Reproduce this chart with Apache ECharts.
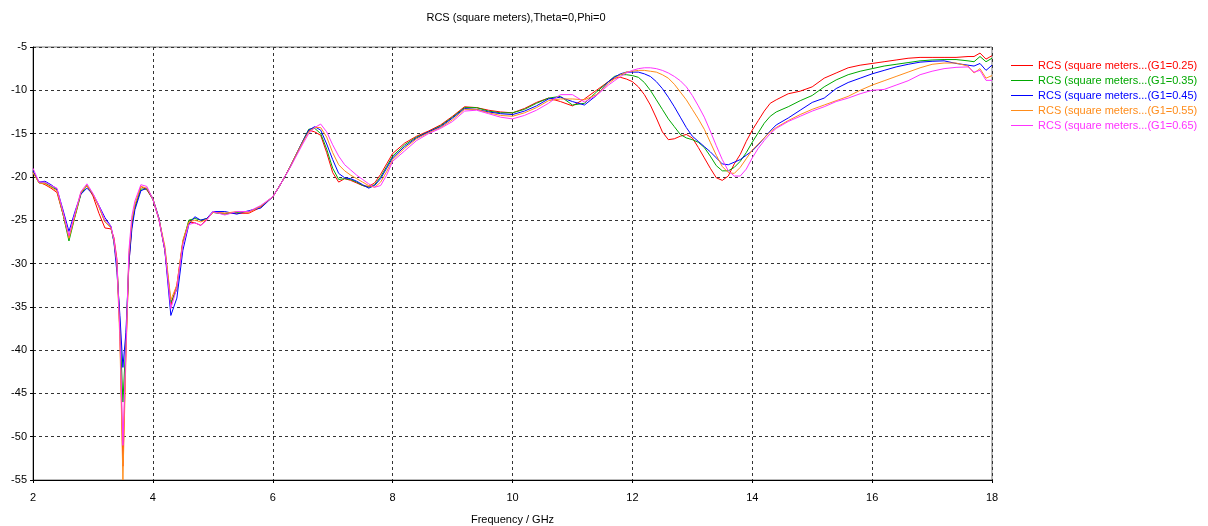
<!DOCTYPE html>
<html>
<head>
<meta charset="utf-8">
<script src="https://cdn.jsdelivr.net/npm/echarts@6/dist/echarts.min.js"></script>
<style>html,body{margin:0;padding:0;background:#fff;}#c{width:1208px;height:526px;}</style>
</head>
<body>
<div id="c"></div>
<script>
const freq = [
  2.0,2.1,2.2,2.3,2.4,2.5,2.6,2.7,2.8,2.9,3.0,3.1,3.2,3.3,
  3.35,3.4,3.45,3.5,3.55,3.6,3.65,3.7,
  3.8,3.9,4.0,4.1,4.2,4.3,4.4,4.5,4.6,4.7,4.8,4.9,5.0,
  5.2,5.4,5.6,5.8,
  6.0,6.1,6.2,6.3,6.4,6.5,6.6,6.7,6.8,6.9,7.0,7.1,7.2,7.3,7.4,7.5,7.6,7.7,7.8,7.9,8.0,
  8.2,8.4,8.6,8.8,9.0,9.2,9.4,9.6,9.8,10.0,10.2,10.4,
  10.6,10.8,11.0,11.2,11.4,11.6,
  11.7,11.8,11.9,12.0,12.1,12.2,12.3,12.4,12.5,12.6,12.7,12.8,12.9,13.0,13.1,13.2,13.3,13.4,13.5,13.6,13.7,13.8,13.9,14.0,14.1,14.2,14.3,14.4,
  14.6,14.8,15.0,15.2,15.4,15.6,15.8,16.0,16.2,16.4,16.6,16.8,17.0,17.2,17.4,17.6,
  17.7,17.8,17.9,18.0
];

const g025 = [
  -19.5,-20.6,-20.9,-21.3,-21.8,-24.3,-27.0,-24.5,-21.8,-21.0,-22.2,-24.2,-25.9,-26.0,
  -27.0,-29.5,-38.0,-53.4,-40.0,-30.0,-25.5,-23.5,
  -21.1,-21.5,-22.6,-24.9,-28.5,-34.8,-32.5,-27.5,-25.2,-25.3,-25.6,-24.9,-24.1,
  -24.2,-24.2,-24.2,-23.5,
  -22.3,-21.2,-20.0,-18.7,-17.3,-15.9,-14.6,-14.8,-15.2,-17.2,-19.5,-20.6,-20.2,-20.4,-20.7,-21.0,-21.1,-20.7,-19.7,-18.5,-17.3,
  -16.1,-15.3,-14.7,-14.0,-13.0,-11.9,-12.0,-12.3,-12.5,-12.6,-12.1,-11.4,
  -10.9,-11.3,-11.8,-11.0,-10.0,-9.0,
  -8.6,-8.5,-8.7,-9.0,-9.6,-10.5,-11.7,-13.2,-14.8,-15.7,-15.6,-15.3,-15.1,-15.5,-16.6,-17.8,-19.0,-20.1,-20.4,-19.9,-18.5,-17.4,-15.9,-14.6,-13.5,-12.4,-11.5,-11.1,
  -10.4,-10.1,-9.6,-8.6,-8.0,-7.4,-7.1,-6.9,-6.7,-6.5,-6.3,-6.2,-6.2,-6.2,-6.2,-6.1,
  -6.1,-5.7,-6.4,-6.0
];

const g035 = [
  -19.4,-20.7,-20.7,-21.1,-21.5,-24.3,-27.4,-24.6,-22.0,-21.0,-22.0,-23.4,-25.2,-25.8,
  -27.5,-30.0,-37.0,-46.0,-39.0,-29.5,-25.5,-23.5,
  -21.4,-21.4,-22.6,-24.8,-28.3,-34.5,-33.0,-27.5,-25.0,-24.8,-25.0,-24.8,-24.1,
  -24.3,-24.1,-24.0,-23.4,
  -22.3,-21.2,-20.0,-18.7,-17.3,-15.9,-14.5,-14.4,-15.0,-16.8,-19.0,-20.3,-20.2,-20.3,-20.6,-21.0,-21.2,-20.9,-20.0,-18.8,-17.6,
  -16.3,-15.4,-14.8,-14.1,-13.1,-12.0,-12.0,-12.4,-12.6,-12.6,-12.2,-11.5,
  -10.9,-10.7,-11.7,-11.5,-10.2,-9.0,
  -8.4,-8.2,-8.2,-8.3,-8.5,-9.1,-10.0,-11.1,-12.2,-13.3,-14.2,-15.1,-15.5,-15.7,-16.0,-16.6,-17.6,-18.7,-19.3,-19.3,-18.9,-18.2,-17.2,-16.0,-14.9,-13.8,-13.0,-12.5,
  -11.9,-11.2,-10.6,-9.6,-8.8,-8.2,-7.8,-7.5,-7.2,-7.0,-6.8,-6.6,-6.5,-6.45,-6.45,-6.6,
  -6.7,-6.1,-6.7,-6.3
];

const g045 = [
  -19.3,-20.6,-20.5,-20.9,-21.4,-23.8,-26.3,-24.0,-22.0,-21.3,-22.0,-23.3,-24.7,-25.7,
  -27.5,-31.0,-36.0,-42.0,-38.0,-30.0,-26.0,-23.8,
  -21.6,-21.3,-22.5,-24.7,-28.5,-36.0,-34.0,-28.5,-25.5,-24.6,-25.0,-24.8,-24.0,
  -24.0,-24.3,-23.9,-23.6,
  -22.3,-21.2,-20.0,-18.7,-17.3,-15.9,-14.6,-14.2,-14.6,-16.2,-18.0,-19.6,-20.1,-20.2,-20.5,-20.9,-21.3,-21.0,-20.2,-19.0,-17.8,
  -16.5,-15.5,-14.8,-14.2,-13.2,-12.1,-12.2,-12.5,-12.7,-12.8,-12.4,-11.8,
  -11.0,-10.8,-11.3,-11.7,-10.6,-9.0,
  -8.5,-8.1,-7.9,-7.9,-7.9,-8.1,-8.4,-9.0,-9.8,-10.8,-11.9,-13.1,-14.3,-15.3,-15.9,-16.5,-17.1,-17.8,-18.5,-18.6,-18.3,-18.0,-17.5,-17.0,-16.3,-15.5,-14.7,-14.0,
  -13.2,-12.3,-11.4,-10.9,-9.8,-9.1,-8.6,-8.1,-7.7,-7.3,-7.0,-6.75,-6.65,-6.6,-6.9,-7.1,
  -7.2,-6.9,-7.7,-7.1
];

const g055 = [
  -19.5,-20.7,-20.8,-21.2,-21.6,-24.2,-27.1,-24.5,-21.8,-21.0,-22.0,-23.5,-25.2,-25.9,
  -27.3,-30.0,-39.0,-55.0,-41.0,-29.0,-25.0,-23.2,
  -21.1,-21.3,-22.5,-24.8,-28.0,-34.2,-32.5,-27.3,-25.2,-25.0,-25.2,-24.9,-24.1,
  -24.2,-24.0,-24.1,-23.4,
  -22.3,-21.2,-20.0,-18.7,-17.3,-16.0,-14.8,-14.3,-14.3,-15.4,-17.2,-18.6,-19.3,-19.8,-20.2,-20.6,-21.0,-21.2,-20.6,-19.4,-18.0,
  -16.7,-15.6,-14.9,-14.3,-13.4,-12.2,-12.2,-12.6,-12.9,-13.0,-12.6,-12.0,
  -11.2,-11.0,-11.0,-11.1,-10.5,-9.2,
  -8.7,-8.2,-7.9,-7.8,-7.7,-7.7,-7.8,-7.9,-8.2,-8.6,-9.3,-10.2,-11.1,-12.2,-13.3,-14.5,-16.0,-17.5,-18.8,-19.5,-19.6,-18.9,-17.9,-16.9,-16.2,-15.5,-14.8,-14.3,
  -13.5,-12.8,-12.2,-11.7,-11.2,-10.7,-10.0,-9.4,-8.9,-8.4,-7.9,-7.4,-7.0,-6.85,-6.85,-7.2,
  -8.0,-7.5,-8.6,-8.3
];

const g065 = [
  -19.0,-20.6,-20.6,-21.0,-21.3,-24.0,-26.8,-24.2,-21.7,-20.8,-21.9,-23.3,-25.0,-25.7,
  -27.2,-29.8,-38.0,-51.0,-40.0,-28.5,-24.5,-22.8,
  -20.9,-21.1,-22.6,-24.9,-28.4,-35.2,-32.8,-27.8,-25.5,-25.3,-25.6,-25.0,-24.0,
  -24.4,-24.0,-24.0,-23.3,
  -22.3,-21.2,-20.0,-18.8,-17.5,-16.2,-15.0,-14.3,-13.9,-14.8,-16.3,-17.6,-18.6,-19.2,-19.8,-20.3,-20.8,-21.2,-21.0,-19.8,-18.2,
  -17.0,-15.8,-15.0,-14.4,-13.6,-12.4,-12.3,-12.7,-13.1,-13.3,-12.9,-12.3,
  -11.5,-10.5,-10.5,-11.35,-10.6,-9.4,
  -8.9,-8.4,-8.0,-7.7,-7.5,-7.4,-7.4,-7.5,-7.7,-8.0,-8.4,-8.9,-9.6,-10.6,-11.8,-13.1,-14.7,-16.4,-18.0,-19.3,-19.9,-19.9,-19.1,-17.8,-16.7,-15.8,-15.0,-14.4,
  -13.6,-13.0,-12.4,-11.9,-11.3,-10.9,-10.4,-10.0,-9.9,-9.4,-8.9,-8.2,-7.8,-7.5,-7.35,-7.3,
  -7.9,-7.7,-8.85,-8.85
];

const seriesNames = [
  'RCS (square meters...(G1=0.25)',
  'RCS (square meters...(G1=0.35)',
  'RCS (square meters...(G1=0.45)',
  'RCS (square meters...(G1=0.55)',
  'RCS (square meters...(G1=0.65)'
];
const seriesValues = [g025, g035, g045, g055, g065];
const colors = ['#ff0000', '#00a800', '#0000ff', '#ff8c1a', '#ff33ff'];

const xTicks = { min: 2, max: 18, interval: 2 };
const yTicks = { min: -55, max: -5, interval: 5 };

const FONT = 'Liberation Sans';
const LINE_ICON = 'path://M0 0L22 0L22 0Z M0 7H22V8H0Z M0 15L22 15L22 15Z';
const chart = echarts.init(document.getElementById('c'), null, { renderer: 'canvas' });

chart.setOption({
  animation: false,
  backgroundColor: '#ffffff',
  title: {
    text: 'RCS (square meters),Theta=0,Phi=0',
    left: 511, top: 7, textAlign: 'center',
    textStyle: { fontFamily: FONT, fontSize: 11, fontWeight: 'normal', color: '#000' }
  },
  legend: {
    orient: 'vertical', left: 1006, top: 53,
    itemWidth: 22, itemHeight: 15, itemGap: 0,
    symbolKeepAspect: false,
    icon: LINE_ICON,
    textStyle: { fontFamily: FONT, fontSize: 11, lineHeight: 15 },
    data: seriesNames.map((n, i) => ({ name: n, icon: LINE_ICON, itemStyle: { color: colors[i] }, textStyle: { color: colors[i] } }))
  },
  grid: {
    left: 33, right: 216, top: 47, bottom: 46,
    outerBoundsMode: 'none', containLabel: false,
    show: true, borderColor: '#777', borderWidth: 1
  },
  xAxis: {
    type: 'value', min: xTicks.min, max: xTicks.max, interval: xTicks.interval,
    name: 'Frequency / GHz', nameLocation: 'middle', nameGap: 34,
    nameTextStyle: { fontFamily: FONT, fontSize: 11, color: '#000' },
    axisLine: { lineStyle: { color: '#000', width: 1 } },
    axisTick: { show: true, length: 3, lineStyle: { color: '#000' } },
    axisLabel: { fontFamily: FONT, fontSize: 11, color: '#000', margin: 12 },
    splitLine: { show: true, lineStyle: { color: '#333', type: [3, 3], width: 1 } }
  },
  yAxis: {
    type: 'value', min: yTicks.min, max: yTicks.max, interval: yTicks.interval,
    axisLine: { show: true, lineStyle: { color: '#000', width: 1 } },
    axisTick: { show: true, length: 3, lineStyle: { color: '#000' } },
    axisLabel: { fontFamily: FONT, fontSize: 11, color: '#000', margin: 6 },
    splitLine: { show: true, lineStyle: { color: '#333', type: [3, 3], width: 1 } }
  },
  series: seriesNames.map((n, i) => ({
    name: n, type: 'line', symbol: 'none', smooth: false,
    lineStyle: { width: 1, color: colors[i] },
    itemStyle: { color: colors[i] },
    data: freq.map((f, k) => [f, seriesValues[i][k]])
  }))
});
</script>
</body>
</html>
